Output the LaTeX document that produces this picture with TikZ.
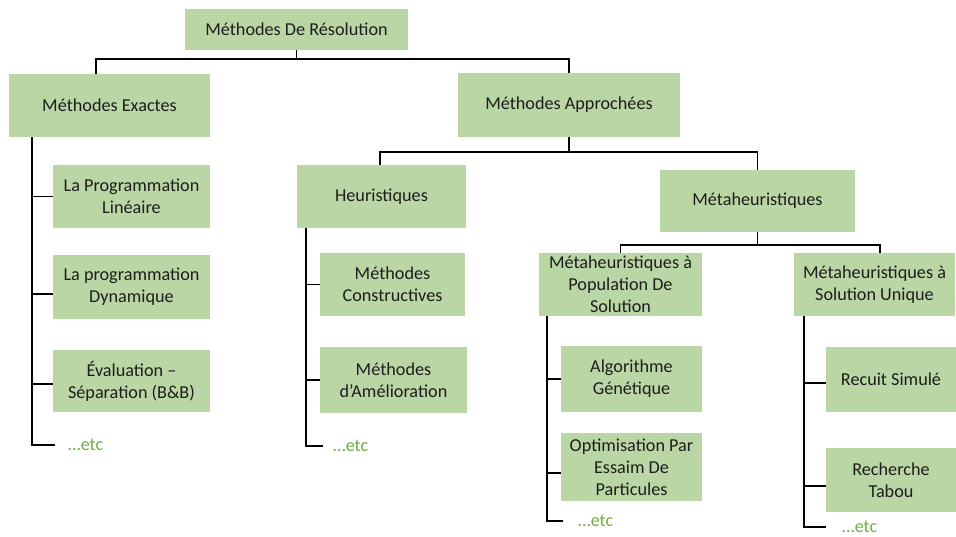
\documentclass[tikz,border=0pt]{standalone}
\usepackage{fontspec}
\setmainfont{Carlito}
\definecolor{boxgreen}{RGB}{185,214,164}
\definecolor{etcgreen}{RGB}{112,173,71}
\definecolor{txt}{RGB}{30,30,30}
\begin{document}
\begin{tikzpicture}[x=1pt,y=-1pt,
  box/.style={fill=boxgreen, draw=none, align=center, text=txt,
    font=\fontsize{18.2}{22}\selectfont, inner sep=0pt},
  link/.style={draw=black, line width=1.7pt},
  etcnote/.style={text=etcgreen, font=\fontsize{18.2}{22}\selectfont,
    anchor=west, inner sep=0pt}]
\useasboundingbox (0,0) rectangle (956,536);

% level 0 and 1
\node[box, minimum width=223pt, minimum height=41pt] (root) at (296.5,29.5) {Méthodes De Résolution};
\node[box, minimum width=201pt, minimum height=63pt] (exact) at (109.5,105.5) {Méthodes Exactes};
\node[box, minimum width=222pt, minimum height=64pt] (appr) at (569,105) {Méthodes Approchées};

% level 2
\node[box, minimum width=169pt, minimum height=63pt] (heur) at (381.5,196.5) {Heuristiques};
\node[box, minimum width=195pt, minimum height=62pt] (meta) at (757.5,201) {Métaheuristiques};

% level 3
\node[box, minimum width=163pt, minimum height=63pt] (pop) at (620.5,284.5) {Métaheuristiques à\\Population De\\Solution};
\node[box, minimum width=161pt, minimum height=63pt] (uni) at (874.5,284.5) {Métaheuristiques à\\Solution Unique};

% exact methods
\node[box, minimum width=157pt, minimum height=63pt] (lp) at (131.5,196.5) {La Programmation\\Linéaire};
\node[box, minimum width=157pt, minimum height=64pt] (dp) at (131.5,287) {La programmation\\Dynamique};
\node[box, minimum width=157pt, minimum height=62pt] (bb) at (131.5,381) {Évaluation –\\Séparation (B\&B)};
\node[etcnote] (etcA) at (68,445) {…etc};

% heuristics
\node[box, minimum width=145pt, minimum height=63pt] (cons) at (392.5,284.5) {Méthodes\\Constructives};
\node[box, minimum width=147pt, minimum height=66pt] (amel) at (393.5,380) {Méthodes\\d’Amélioration};
\node[etcnote] (etcH) at (333,446) {…etc};

% population-based
\node[box, minimum width=141pt, minimum height=66pt] (ag) at (631.5,379) {Algorithme\\Génétique};
\node[box, minimum width=141pt, minimum height=68pt] (pso) at (631.5,467) {Optimisation Par\\Essaim De\\Particules};
\node[etcnote] (etcP) at (578,521) {…etc};

% single-solution
\node[box, minimum width=130pt, minimum height=65pt] (rs) at (891,379.5) {Recuit Simulé};
\node[box, minimum width=130pt, minimum height=64pt] (tabu) at (891,480) {Recherche\\Tabou};
\node[etcnote] (etcU) at (842,527) {…etc};

% tree buses
\draw[link] (root.south) -- ++(0,9) coordinate (busA);
\draw[link] ([xshift=-13.5pt]exact.north) |- (busA) -| (appr.north);

\draw[link] (appr.south) -- ++(0,15) coordinate (busB);
\draw[link] ([xshift=-1.5pt]heur.north) |- (busB) -| (meta.north);

\draw[link] (meta.south) -- ++(0,13) coordinate (busC);
\draw[link] (pop.north) |- (busC) -| ([xshift=5.5pt]uni.north);

% side trunks
\coordinate (tE) at ([xshift=23pt]exact.south west);
\draw[link] (tE) |- ([xshift=-13pt]etcA.west);
\draw[link] (lp.west) -- (lp.west -| tE);
\draw[link] ([yshift=-7pt]dp.west) -- ([yshift=-7pt]dp.west -| tE);
\draw[link] ([yshift=-3pt]bb.west) -- ([yshift=-3pt]bb.west -| tE);

\coordinate (tH) at ([xshift=9pt]heur.south west);
\draw[link] (tH) |- ([xshift=-10pt]etcH.west);
\draw[link] (cons.west) -- (cons.west -| tH);
\draw[link] (amel.west) -- (amel.west -| tH);

\coordinate (tP) at ([xshift=8pt]pop.south west);
\draw[link] (tP) |- ([xshift=-15pt]etcP.west);
\draw[link] (ag.west) -- (ag.west -| tP);
\draw[link] ([yshift=-6pt]pso.west) -- ([yshift=-6pt]pso.west -| tP);

\coordinate (tU) at ([xshift=10pt]uni.south west);
\draw[link] (tU) |- ([xshift=-16pt]etcU.west);
\draw[link] ([yshift=-3.5pt]rs.west) -- ([yshift=-3.5pt]rs.west -| tU);
\draw[link] ([yshift=-6pt]tabu.west) -- ([yshift=-6pt]tabu.west -| tU);
\end{tikzpicture}
\end{document}
